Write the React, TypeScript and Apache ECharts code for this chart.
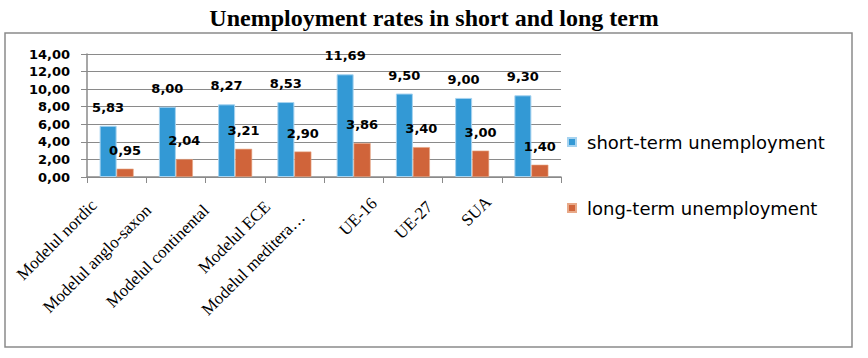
import React, { useEffect, useRef } from "react";
import * as echarts from "echarts";

const categories = [
  "Modelul nordic",
  "Modelul anglo-saxon",
  "Modelul continental",
  "Modelul ECE",
  "Modelul meditera…",
  "UE-16",
  "UE-27",
  "SUA",
];
const shortTerm = [5.83, 8.0, 8.27, 8.53, 11.69, 9.5, 9.0, 9.3];
const longTerm = [0.95, 2.04, 3.21, 2.9, 3.86, 3.4, 3.0, 1.4];
const seriesNames = ["short-term unemployment", "long-term unemployment"];
const titleText = "Unemployment rates in short and long term";

// per-label nudges for the rotated category names: [along text, across text]
const labelNudge: [number, number][] = [
  [32, 0],
  [39, 0],
  [40, 2],
  [36, 4],
  [61, 24],
  [42, 26],
  [47, 26],
  [44, 34],
];

const fmt = (v: number) => v.toFixed(2).replace(".", ",");

const richLabels: Record<string, any> = {};
labelNudge.forEach(([along, across], i) => {
  richLabels["c" + i] = {
    fontFamily: "Liberation Serif",
    fontSize: 17,
    color: "#000",
    padding: [0, along, across, 0],
  };
});

export default function App() {
  const ref = useRef<HTMLDivElement>(null);

  useEffect(() => {
    if (!ref.current) return;
    const chart = echarts.init(ref.current, null, { renderer: "svg" });
    const valueLabel = {
      show: true,
      position: "top" as const,
      distance: 12,
      formatter: (p: any) => fmt(p.value),
      fontFamily: "DejaVu Sans",
      fontWeight: "bold" as const,
      fontSize: 13,
      color: "#000",
    };
    chart.setOption({
      animation: false,
      title: {
        text: titleText,
        left: "center",
        top: 1,
        textStyle: {
          fontFamily: "Liberation Serif",
          fontWeight: "bold",
          fontSize: 24,
          color: "#000",
        },
      },
      graphic: [
        {
          type: "rect",
          shape: { x: 5, y: 33, width: 847, height: 314 },
          style: { fill: "none", stroke: "#8a8a8a", lineWidth: 1.5 },
          silent: true,
        },
      ],
      legend: {
        orient: "vertical",
        left: 562,
        top: 128,
        itemGap: 48,
        itemWidth: 8,
        itemHeight: 8,
        icon: "rect",
        data: seriesNames,
        textStyle: {
          fontFamily: "DejaVu Sans",
          fontSize: 18,
          color: "#000",
          padding: [0, 0, 0, 6],
        },
      },
      grid: { left: 87, right: 307, top: 54, bottom: 181 },
      xAxis: {
        type: "category",
        data: categories,
        axisLine: { lineStyle: { color: "#8a8a8a", width: 1.5 } },
        axisTick: { show: true, length: 6, lineStyle: { color: "#8a8a8a" } },
        axisLabel: {
          rotate: 45,
          interval: 0,
          margin: 3,
          fontFamily: "Liberation Serif",
          fontSize: 17,
          color: "#000",
          formatter: (v: string, i: number) => `{c${i}|${v}}`,
          rich: richLabels,
        },
      },
      yAxis: {
        type: "value",
        min: 0,
        max: 14,
        interval: 2,
        axisLine: { show: true, lineStyle: { color: "#8a8a8a", width: 1.5 } },
        axisTick: { show: true, length: 6, lineStyle: { color: "#8a8a8a" } },
        splitLine: { lineStyle: { color: "#8a8a8a", width: 1.2 } },
        axisLabel: {
          formatter: fmt,
          margin: 17,
          fontFamily: "DejaVu Sans",
          fontWeight: "bold",
          fontSize: 13,
          color: "#000",
        },
      },
      series: [
        {
          name: seriesNames[0],
          type: "bar",
          data: shortTerm,
          barWidth: 17,
          barGap: 0,
          itemStyle: { color: "#3399d5", borderColor: "#a6d3f0", borderWidth: 1 },
          label: valueLabel,
        },
        {
          name: seriesNames[1],
          type: "bar",
          data: longTerm,
          barWidth: 17,
          barGap: 0,
          itemStyle: { color: "#d0643a", borderColor: "#e8a988", borderWidth: 0.6 },
          label: valueLabel,
        },
      ],
    });
    return () => chart.dispose();
  }, []);

  return (
    <div
      ref={ref}
      style={{ position: "fixed", left: 0, top: 0, width: 868, height: 358, background: "#fff" }}
    />
  );
}
